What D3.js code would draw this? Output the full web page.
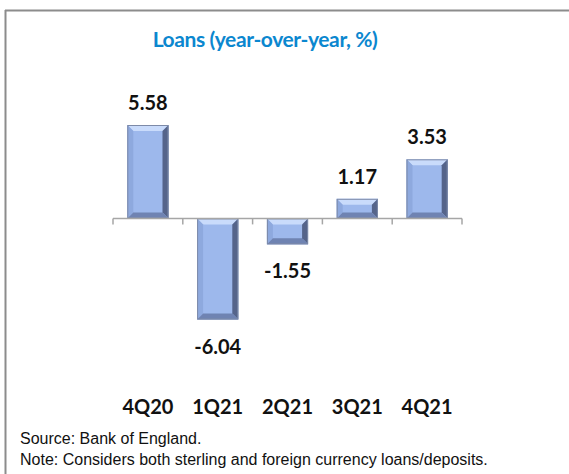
<!DOCTYPE html>
<html>
<head>
<meta charset="utf-8">
<script src="https://cdn.jsdelivr.net/npm/d3@7"></script>
<style>
  html, body { margin: 0; padding: 0; background: #fff; }
  svg { display: block; }
</style>
</head>
<body>
<svg id="chart" width="569" height="474"></svg>
<script>
// Loans growth by quarter
const categories = ["4Q20", "1Q21", "2Q21", "3Q21", "4Q21"];
const values = [5.58, -6.04, -1.55, 1.17, 3.53];
const valueLabels = ["5.58", "-6.04", "-1.55", "1.17", "3.53"];
const titleText = "Loans (year-over-year, %)";
const notes = ["Source: Bank of England.", "Note: Considers both sterling and foreign currency loans/deposits."];

const svg = d3.select("#chart");
const labelFont = "Lato, 'Open Sans', sans-serif";

// frame: top and left rules
svg.append("line").attr("x1", 5).attr("x2", 569).attr("y1", 10.5).attr("y2", 10.5)
  .attr("stroke", "#8c8c8c").attr("stroke-width", 2);
svg.append("line").attr("x1", 5.5).attr("x2", 5.5).attr("y1", 10).attr("y2", 474)
  .attr("stroke", "#8c8c8c").attr("stroke-width", 2);

// title
svg.append("text")
  .attr("x", 265).attr("y", 47)
  .attr("text-anchor", "middle")
  .attr("font-family", labelFont)
  .attr("font-weight", "bold")
  .attr("font-size", 21)
  .attr("letter-spacing", -0.4)
  .attr("fill", "#0b87cf")
  .text(titleText);

const x = d3.scaleBand().domain(categories).range([113, 462]).paddingInner(0.41).paddingOuter(0.205);
const y = d3.scaleLinear().domain([-6.04, 5.58]).range([319.5, 125]);
const y0 = y(0);

// bevelled bars
const bev = 6;
const bars = svg.append("g");
categories.forEach((c, i) => {
  const v = values[i];
  const x0 = x(c), x1 = x(c) + x.bandwidth();
  const yt = Math.min(y(v), y0), yb = Math.max(y(v), y0);
  const g = bars.append("g");
  const b = Math.min(bev, (yb - yt) / 2);
  g.append("rect").attr("x", x0).attr("y", yt).attr("width", x1 - x0).attr("height", yb - yt)
    .attr("fill", "#9db8ec");
  const poly = (pts, fill) => g.append("polygon").attr("points", pts.map(p => p.join(",")).join(" ")).attr("fill", fill);
  poly([[x0, yt], [x1, yt], [x1 - bev, yt + b], [x0 + bev, yt + b]], "#c9dbfb");
  poly([[x0, yt], [x0 + bev, yt + b], [x0 + bev, yb - b], [x0, yb]], "#8ea9de");
  poly([[x1, yt], [x1, yb], [x1 - bev, yb - b], [x1 - bev, yt + b]], "#55648a");
  poly([[x0, yb], [x0 + bev, yb - b], [x1 - bev, yb - b], [x1, yb]], "#6f83b2");
  g.append("rect").attr("x", x0 + 0.5).attr("y", yt + 0.5).attr("width", x1 - x0 - 1).attr("height", yb - yt - 1)
    .attr("fill", "none").attr("stroke", "#7d8aa8").attr("stroke-width", 1);
});

// zero axis with boundary ticks
svg.append("line").attr("x1", 113).attr("x2", 462).attr("y1", y0).attr("y2", y0)
  .attr("stroke", "#a6a6a6").attr("stroke-width", 1.5);
d3.range(categories.length + 1).forEach(k => {
  const tx = 113 + k * x.step();
  svg.append("line").attr("x1", tx).attr("x2", tx).attr("y1", y0).attr("y2", y0 + 6)
    .attr("stroke", "#a6a6a6").attr("stroke-width", 1.5);
});

// value labels
svg.append("g").selectAll("text").data(categories).join("text")
  .attr("x", c => x(c) + x.bandwidth() / 2)
  .attr("y", (c, i) => values[i] >= 0 ? y(values[i]) - 15 : y(values[i]) + 34)
  .attr("text-anchor", "middle")
  .attr("font-family", labelFont)
  .attr("font-weight", "bold")
  .attr("font-size", 20)
  .attr("fill", "#111")
  .text((c, i) => valueLabels[i]);

// category labels
svg.append("g").selectAll("text").data(categories).join("text")
  .attr("x", c => x(c) + x.bandwidth() / 2)
  .attr("y", 414)
  .attr("text-anchor", "middle")
  .attr("font-family", labelFont)
  .attr("font-weight", "bold")
  .attr("font-size", 20)
  .attr("fill", "#111")
  .text(c => c);

// footnotes
svg.append("g").selectAll("text").data(notes).join("text")
  .attr("x", 20)
  .attr("y", (d, i) => 444 + i * 21)
  .attr("font-family", "'Liberation Sans', Arial, sans-serif")
  .attr("font-size", 16)
  .attr("fill", "#111")
  .text(d => d);
</script>
</body>
</html>
